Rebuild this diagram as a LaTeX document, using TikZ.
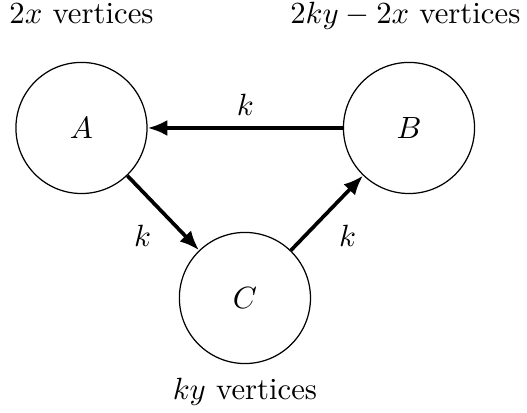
\documentclass[tikz,border=0pt]{standalone}
\usepackage{amsmath}
\usetikzlibrary{arrows.meta, positioning}

\begin{document}
\begin{tikzpicture}[
    part/.style={draw, circle, minimum size=1.5cm},
    flow/.style={-{Latex[length=6.4pt,width=5.2pt]}, very thick},
    count/.style={text depth=0pt, inner sep=1pt}
  ]
  \useasboundingbox (-0.932,-3.260) rectangle (5.097,1.464);

  % The three parts
  \node[part] (A) at (0,0) {$A$};
  \node[part] (B) at (3.747,0) {$B$};
  \node[part] (C) at (1.870,-1.945) {$C$};

  % Sizes
  \node[count, above=0.4cm of A] (numA) {$2x$ vertices};
  \node[count, above=0.4cm of B, xshift=-1.2pt] (numB) {$2ky-2x$ vertices};
  \node[below=1pt of C] (numC) {$ky$ vertices};

  % Edges between parts
  \draw[flow] (B) -- node[above] (kBA) {$k$} (A);
  \draw[flow] (A) -- node[below left] (kAC) {$k$} (C);
  \draw[flow] (C) -- node[below right] (kCB) {$k$} (B);
\end{tikzpicture}
\end{document}
